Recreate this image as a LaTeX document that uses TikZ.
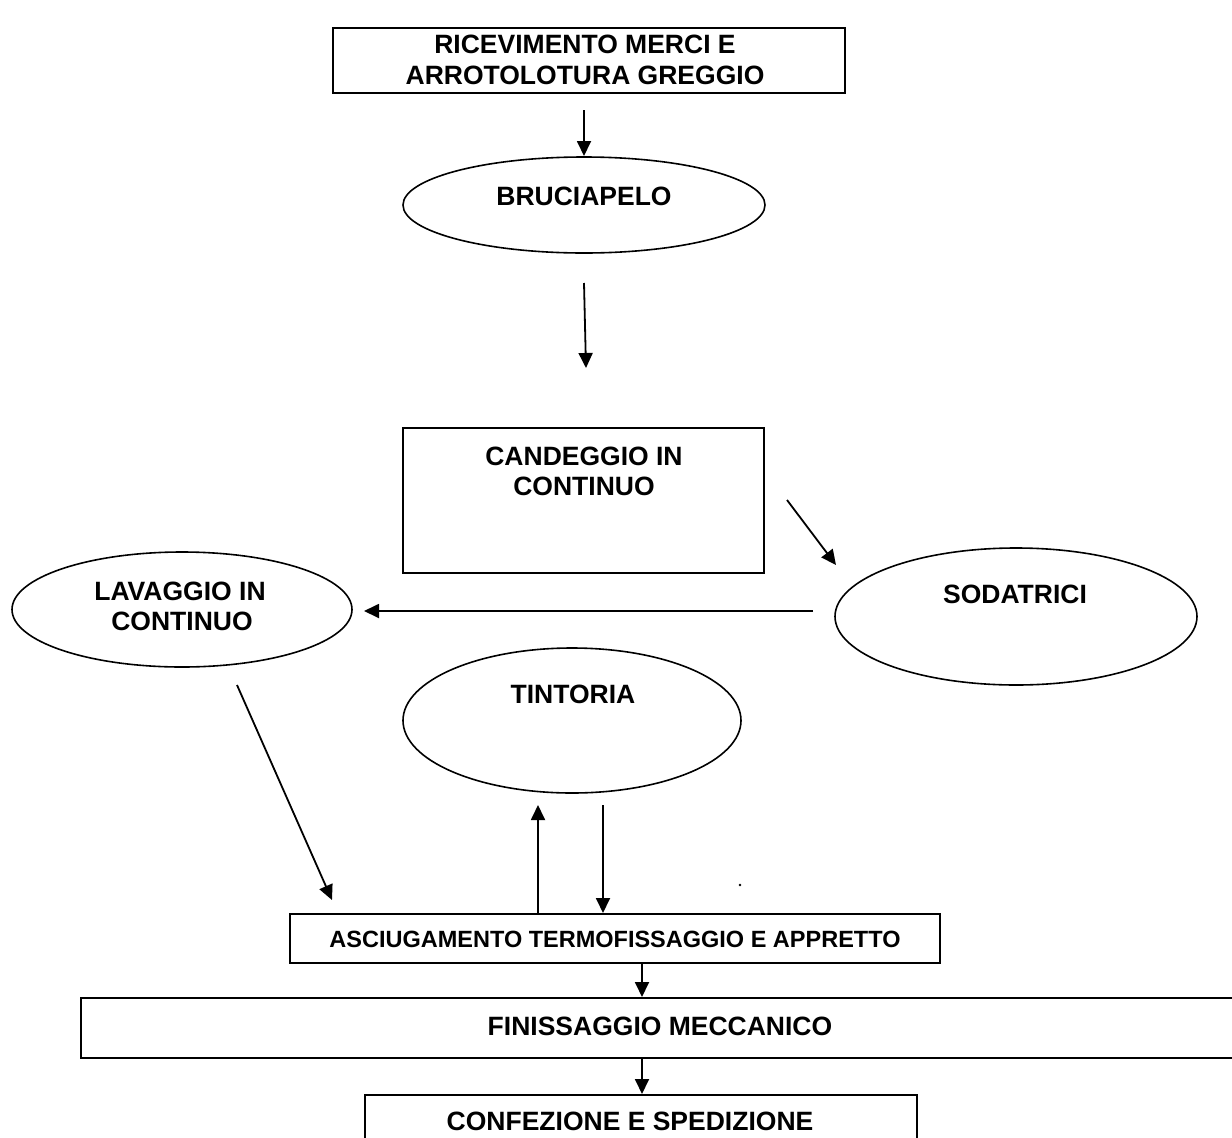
\documentclass[tikz,border=0pt]{standalone}
\usepackage{fontspec}
\setmainfont{Liberation Sans}
\usetikzlibrary{arrows.meta,shapes.geometric}
\tikzset{
  boxn/.style={draw, rectangle, line width=1.8pt, inner sep=0pt, outer sep=0pt},
  ovaln/.style={draw, ellipse, line width=1.6pt, inner sep=0pt, outer sep=0pt},
  lbl/.style={anchor=base, inner sep=0pt, font=\bfseries\fontsize{26.5}{30}\selectfont},
  lblsmall/.style={anchor=base, inner sep=0pt, font=\bfseries\fontsize{23.5}{28}\selectfont},
  arr/.style={-{Triangle[length=15pt,width=14pt]}, line width=1.8pt}
}
\begin{document}
\begin{tikzpicture}[x=1pt,y=-1pt]
\useasboundingbox (0,0) rectangle (1232,1138);
\fill[white] (0,0) rectangle (1232,1138);

% shapes
\node[boxn, minimum width=512pt, minimum height=65pt] (ricev) at (589,60.5) {};
\node[ovaln, minimum width=362pt, minimum height=96pt] (bruc) at (584,205) {};
\node[boxn, minimum width=361pt, minimum height=145pt] (cand) at (583.5,500.5) {};
\node[ovaln, minimum width=362pt, minimum height=137pt] (soda) at (1016,616.5) {};
\node[ovaln, minimum width=340pt, minimum height=115pt] (lav) at (182,609.5) {};
\node[ovaln, minimum width=338pt, minimum height=145pt] (tint) at (572,720.5) {};
\node[boxn, minimum width=650pt, minimum height=49pt] (asc) at (615,938.5) {};
\node[boxn, minimum width=1159pt, minimum height=60pt] (fin) at (660.5,1028) {};
\node[boxn, minimum width=552pt, minimum height=65pt] (conf) at (641,1127.5) {};

% texts
\node[lbl] (t1a) at (585,53) {RICEVIMENTO MERCI E};
\node[lbl] (t1b) at (585,84) {ARROTOLOTURA GREGGIO};
\node[lbl] (t2) at (584,205) {BRUCIAPELO};
\node[lbl] (t3a) at (584,465) {CANDEGGIO IN};
\node[lbl] (t3b) at (584,495) {CONTINUO};
\node[lbl] (t4) at (1015,603) {SODATRICI};
\node[lbl] (t5a) at (180,600) {LAVAGGIO IN};
\node[lbl] (t5b) at (182,630) {CONTINUO};
\node[lbl] (t6) at (573,703) {TINTORIA};
\node[lblsmall] (t7) at (615,947) {ASCIUGAMENTO TERMOFISSAGGIO E APPRETTO};
\node[lbl] (t8) at (660,1035) {FINISSAGGIO MECCANICO};
\node[lbl] (t9) at (630,1130) {CONFEZIONE E SPEDIZIONE};

% connector end points
\coordinate (a1s) at (584,110);  \coordinate (a1e) at (584,156);
\coordinate (a2s) at (584,283);  \coordinate (a2e) at (586,368);
\coordinate (a3s) at (787,500);  \coordinate (a3e) at (836,565);
\coordinate (a4s) at (813,611);  \coordinate (a4e) at (364,611);
\coordinate (a5s) at (237,685);  \coordinate (a5e) at (332,900);
\coordinate (a6s) at (538,913);  \coordinate (a6e) at (538,805);
\coordinate (a7s) at (603,805);  \coordinate (a7e) at (603,913);
\coordinate (a8s) at (642,963);  \coordinate (a8e) at (642,997);
\coordinate (a9s) at (642,1059); \coordinate (a9e) at (642,1094);

\draw[arr] (a1s) -- (a1e);
\draw[arr] (a2s) -- (a2e);
\draw[arr] (a3s) -- (a3e);
\draw[arr] (a4s) -- (a4e);
\draw[arr] (a5s) -- (a5e);
\draw[arr] (a6s) -- (a6e);
\draw[arr] (a7s) -- (a7e);
\draw[arr] (a8s) -- (a8e);
\draw[arr] (a9s) -- (a9e);

% stray dot
\fill (740,885) circle (1.3pt);
\end{tikzpicture}
\end{document}
